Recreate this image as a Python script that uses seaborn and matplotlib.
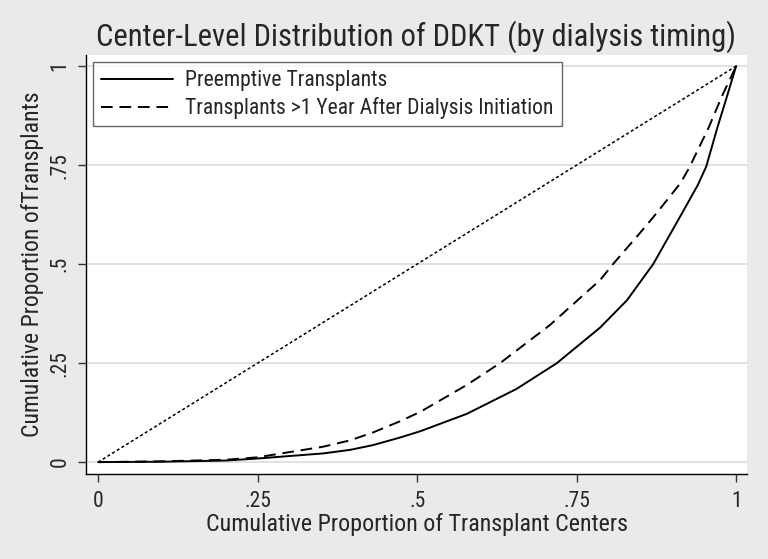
import numpy as np
import pandas as pd
import matplotlib
matplotlib.use("Agg")
import matplotlib.pyplot as plt
import seaborn as sns
from matplotlib import font_manager

# Curves
pre_x = [0, .1, .2, .249, .353, .395, .431, .473, .505, .578, .656, .719, .787, .829, .870, .915, .94, .953, .971, .984, 1]
pre_y = [0, .001, .004, .009, .022, .031, .043, .062, .078, .122, .185, .25, .34, .409, .5, .628, .70, .746, .847, .915, 1]
late_x = [0, .1, .2, .249, .353, .395, .431, .473, .505, .578, .630, .708, .787, .807, .850, .876, .913, .927, .957, .978, 1]
late_y = [0, .002, .006, .012, .039, .055, .075, .103, .127, .195, .25, .346, .46, .5, .58, .63, .705, .745, .845, .925, 1]
eq_x = [0, 1]
eq_y = [0, 1]
ticks = [0, .25, .5, .75, 1]
tick_labels = ["0", ".25", ".5", ".75", "1"]

names = {f.name for f in font_manager.fontManager.ttflist}
fam = "Liberation Sans"
for cand in ["Liberation Sans Narrow", "Arial Narrow", "Roboto Condensed", "Archivo Narrow",
             "PT Sans Narrow", "Open Sans Condensed", "Roboto"]:
    if cand in names:
        fam = cand
        break

sns.set_style("white")
plt.rcParams["font.family"] = [fam, "DejaVu Sans"]

pre = pd.DataFrame({"x": pre_x, "y": pre_y})
late = pd.DataFrame({"x": late_x, "y": late_y})
eq = pd.DataFrame({"x": eq_x, "y": eq_y})

bg = "#eaeaea"
fig = plt.figure(figsize=(7.68, 5.59), dpi=100)
fig.set_facecolor(bg)
ax = fig.add_axes([86 / 768, 1 - 474 / 559, (747 - 86) / 768, (474 - 55) / 559])
ax.set_facecolor("white")

for t in ticks:
    ax.axhline(t, color="#dcdcdc", lw=1.2, zorder=0)

sns.lineplot(data=pre, x="x", y="y", ax=ax, color="black", lw=1.4,
             label="Preemptive Transplants", sort=False)
sns.lineplot(data=late, x="x", y="y", ax=ax, color="black", lw=1.4,
             label="Transplants >1 Year After Dialysis Initiation", sort=False)
ax.lines[-1].set_dashes([6, 3.5])
sns.lineplot(data=eq, x="x", y="y", ax=ax, color="black", lw=1.1, sort=False)
ax.lines[-1].set_dashes([2, 1.6])

ax.set_xlim(-0.019, 1.017)
ax.set_ylim(-0.030, 1.028)
ax.set_xticks(ticks)
ax.set_xticklabels(tick_labels, fontsize=16)
ax.set_yticks(ticks)
ax.set_yticklabels(tick_labels, fontsize=16, rotation=90, va="center")
ax.tick_params(axis="both", direction="out", length=6, width=1, color="#333333")
ax.tick_params(axis="x", pad=6)
ax.tick_params(axis="y", pad=5)
ax.tick_params(bottom=True, left=True)

for s in ["top", "right"]:
    ax.spines[s].set_visible(False)
for s in ["left", "bottom"]:
    ax.spines[s].set_color("black")
    ax.spines[s].set_linewidth(1)

xl = ax.set_xlabel("Cumulative Proportion of Transplant Centers", fontsize=16, va="center")
yl = ax.set_ylabel("Cumulative Proportion ofTransplants", fontsize=16, va="center")
ax.xaxis.set_label_coords(0.5, (474 - 525) / 419)
ax.yaxis.set_label_coords((33 - 86) / 661, 0.5)
ttl = fig.suptitle("Center-Level Distribution of DDKT (by dialysis timing)", fontsize=20,
                   x=(96 + 735) / 2 / 768, y=1 - 37 / 559, va="center")

leg = ax.legend(loc="upper left", bbox_to_anchor=(7 / 661, (474 - 62) / 419), fontsize=14,
                frameon=True, fancybox=False, handlelength=3.7, borderpad=0.4,
                labelspacing=0.3, handletextpad=0.65, borderaxespad=0)
leg.get_frame().set_edgecolor("#444444")
leg.get_frame().set_linewidth(1)
for h in leg.get_lines():
    h.set_linewidth(1.4)
leg.get_lines()[1].set_dashes([6, 3.5])

# scale text sizes so their widths match the reference
r = fig.canvas.get_renderer()
def fit(t, target, vertical=False):
    bb = t.get_window_extent(r)
    w = bb.height if vertical else bb.width
    t.set_fontsize(t.get_fontsize() * target / w)

fit(ttl, 639)
fit(xl, 423)
fit(yl, 346, vertical=True)
fit(leg.get_texts()[1], 372)
leg.get_texts()[0].set_fontsize(leg.get_texts()[1].get_fontsize())
tsize = xl.get_fontsize() * 0.9
for lab in ax.get_xticklabels() + ax.get_yticklabels():
    lab.set_fontsize(tsize)

fig.savefig("out.png", dpi=100, facecolor=bg)
